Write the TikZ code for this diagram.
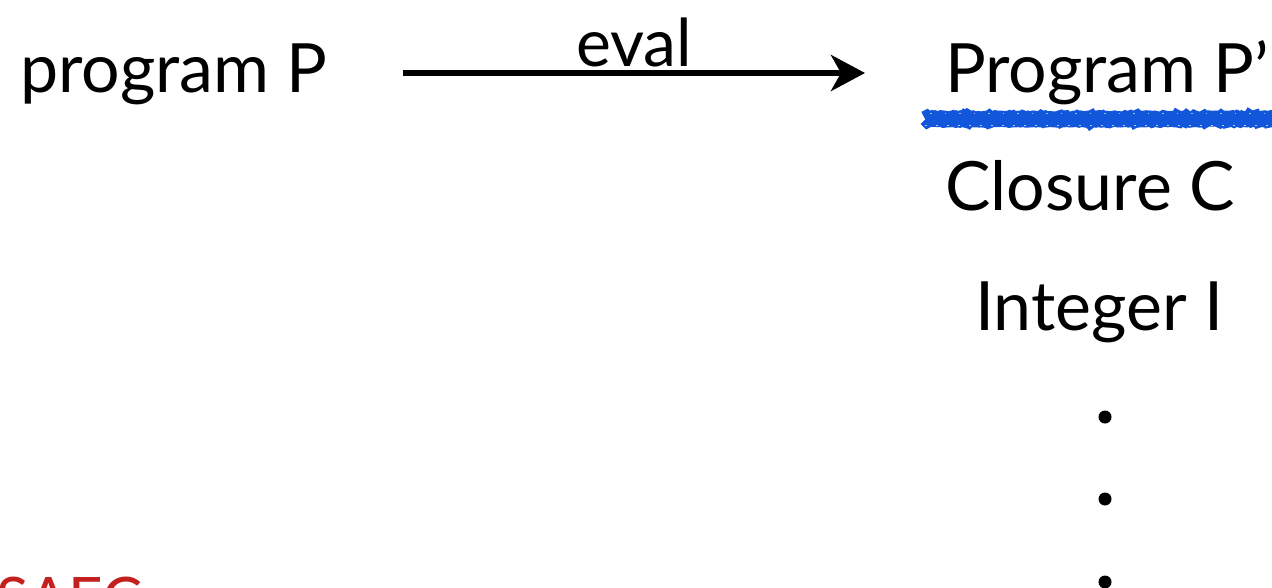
\documentclass[tikz,border=0pt]{standalone}
\usepackage{fontspec}
\setmainfont{Lato}
\usetikzlibrary{arrows.meta,decorations.pathmorphing}
\definecolor{inkred}{RGB}{196,32,30}
\definecolor{squiggle}{RGB}{18,86,220}
\tikzset{
  label/.style={inner sep=0pt, anchor=base west, font=\fontsize{68}{80}\selectfont},
  dotmark/.style={circle, fill=black, inner sep=0pt, minimum size=13pt},
  flow/.style={line width=6.5pt, -{Stealth[length=34pt,width=36pt,inset=10pt]}},
}
\begin{document}
\begin{tikzpicture}[x=1pt,y=-1pt]
  \useasboundingbox (0,0) rectangle (1272,587);
  % left-hand term and its evaluation result
  \node[label] (src) at (20,92) {program P};
  \node[label] (dst) at (945,92) {Program P’};
  % the evaluation arrow
  \coordinate (a0) at (403,73);
  \coordinate (a1) at (865,73);
  \draw[flow] (a0) -- node[above=3pt, font=\fontsize{66}{80}\selectfont, inner sep=0pt] (ev) {eval} (a1);
  % spell-check squiggle under the result
  \coordinate (s0) at (925,119);
  \coordinate (s1) at (1272,119);
  \draw[squiggle, line width=16pt, decorate, decoration={random steps, segment length=1.5pt, amplitude=0.7pt}] (s0) -- (s1);
  \draw[white, line width=0.8pt, dash pattern=on 2pt off 9pt, opacity=0.7] (925,125) -- (1272,125);
  \draw[white, line width=0.6pt, dash pattern=on 1.5pt off 13pt, opacity=0.6] (930,113) -- (1272,113);
  % other possible values
  \node[label] (clo) at (945,210) {Closure C};
  \node[label] (int) at (975,330) {Integer I};
  \node[dotmark] (d1) at (1105,417) {};
  \node[dotmark] (d2) at (1105,499) {};
  \node[dotmark] (d3) at (1105,582) {};
  % logo fragment at the bottom edge
  \node[inner sep=0pt, anchor=base west, text=inkred, font=\fontsize{60}{70}\selectfont] (logo) at (-4,620) {SAEC};
\end{tikzpicture}
\end{document}
